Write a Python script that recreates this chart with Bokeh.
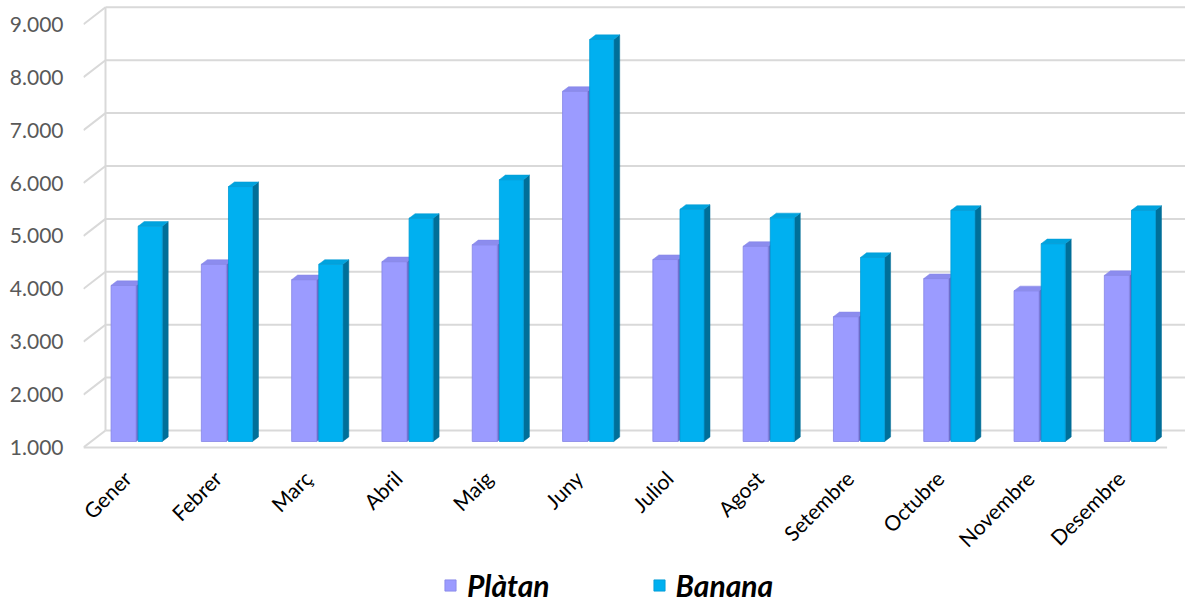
import math
from bokeh.plotting import figure
from bokeh.models import (Range1d, LinearAxis, FixedTicker, Legend, LegendItem)
from bokeh.core.properties import value
from bokeh.embed import file_html
from bokeh.resources import INLINE

# ---------------- data ----------------
months = ["Gener", "Febrer", "Març", "Abril", "Maig", "Juny", "Juliol",
          "Agost", "Setembre", "Octubre", "Novembre", "Desembre"]
platan = [3950, 4350, 4060, 4400, 4720, 7620, 4440, 4690, 3360, 4080, 3850, 4140]
banana = [5070, 5820, 4350, 5220, 5950, 8600, 5390, 5230, 4480, 5370, 4740, 5370]
series_names = ["Plàtan", "Banana"]
y_ticks = [1000, 2000, 3000, 4000, 5000, 6000, 7000, 8000, 9000]
y_tick_labels = ["1.000", "2.000", "3.000", "4.000", "5.000", "6.000", "7.000", "8.000", "9.000"]
base_value = 1000

# ---------------- layout constants ----------------
W, H = 1185, 605
BL, BR, BT, BB = 83, 0, 0, 0
FW, FH = W - BL - BR, H - BT - BB
SX = 90.3            # px per category
SY = 52.9 / 1000.0   # px per value unit
BASE_PX = 441        # pixel row of bar bottoms
FRONT_DX, FRONT_DY = -8.0, -6.0   # front plane offset from bars (px, +up)
BACK_DX, BACK_DY = 14.0, 11.0     # back wall offset from bars (px, +up)
BAR_DX, BAR_DY = 6.0, 4.6         # bar depth (px)

x_start = -0.5 + FRONT_DX / SX
x_end = x_start + FW / SX
y_start = base_value - (FH - BASE_PX) / SY
y_end = y_start + FH / SY

p = figure(width=W, height=H, output_backend="svg", toolbar_location=None,
           x_range=Range1d(x_start, x_end), y_range=Range1d(y_start, y_end),
           x_axis_location=None, y_axis_location=None,
           min_border_left=BL, min_border_right=BR, min_border_top=BT,
           min_border_bottom=BB)
p.outline_line_color = None
p.background_fill_color = "white"
p.border_fill_color = "white"
p.grid.visible = False
p.extra_y_ranges = {"front": Range1d(y_start - FRONT_DY / SY, y_end - FRONT_DY / SY)}

grid_color = "#D9D9D9"
n = len(months)

# ---------------- back wall / floor ----------------
wall_left_x = -0.5 + BACK_DX / SX
front_left_x = -0.5 + FRONT_DX / SX
front_right_x = (n - 0.5) + FRONT_DX / SX
gy = [v + BACK_DY / SY for v in y_ticks]
p.segment(x0=[wall_left_x] * len(y_ticks), y0=gy,
          x1=[x_end + 1] * len(y_ticks), y1=gy,
          line_color=grid_color, line_width=2)
p.segment(x0=[wall_left_x], y0=[gy[0]], x1=[wall_left_x], y1=[gy[-1]],
          line_color=grid_color, line_width=2)
p.segment(x0=[front_left_x] * len(y_ticks),
          y0=[v + FRONT_DY / SY for v in y_ticks],
          x1=[wall_left_x] * len(y_ticks), y1=gy,
          line_color=grid_color, line_width=2)
p.segment(x0=[front_left_x], y0=[base_value + FRONT_DY / SY],
          x1=[front_right_x], y1=[base_value + FRONT_DY / SY],
          line_color=grid_color, line_width=2)

# ---------------- 3D bars ----------------
def bars(values, offset, width, face, side, cap, edge):
    xs = [i + offset for i in range(len(values))]
    ddx, ddy = BAR_DX / SX, BAR_DY / SY
    side_x, side_y, cap_x, cap_y = [], [], [], []
    for x, v in zip(xs, values):
        xl, xr = x - width / 2, x + width / 2
        side_x.append([xr, xr + ddx, xr + ddx, xr])
        side_y.append([base_value, base_value + ddy, v + ddy, v])
        cap_x.append([xl, xl + ddx, xr + ddx, xr])
        cap_y.append([v, v + ddy, v + ddy, v])
    p.patches(xs=side_x, ys=side_y, fill_color=side, line_color=side, line_width=0.5)
    r = p.vbar(x=xs, top=values, bottom=base_value, width=width,
               fill_color=face, line_color=edge, line_width=0.8)
    p.patches(xs=cap_x, ys=cap_y, fill_color=cap, line_color=edge, line_width=0.5)
    return r

r_p = bars(platan, -0.145, 0.277, "#9B9BFF", "#6B6BC8", "#8C8CEE", "#8585E6")
r_b = bars(banana, 0.15, 0.266, "#00B0F0", "#006F99", "#00A3DE", "#009BD4")

# ---------------- y axis (front plane) ----------------
yax = LinearAxis(y_range_name="front", ticker=FixedTicker(ticks=y_ticks),
                 major_label_overrides={v: s for v, s in zip(y_ticks, y_tick_labels)})
yax.axis_line_color = None
yax.major_tick_line_color = None
yax.minor_tick_line_color = None
yax.major_tick_out = 0
yax.major_label_standoff = 20
yax.major_label_text_font = "Lato"
yax.major_label_text_font_size = "21px"
yax.major_label_text_color = "#595959"
p.add_layout(yax, "left")

# ---------------- category labels ----------------
p.text(x=[i - 0.105 for i in range(n)], y=[base_value - 620] * n, text=months,
       angle=math.pi / 4, text_align="right", text_baseline="middle",
       text_font=value("Lato"), text_font_size="21px", text_color="#000000")

# ---------------- legend ----------------
legend = Legend(items=[LegendItem(label=series_names[0], renderers=[r_p]),
                       LegendItem(label=series_names[1], renderers=[r_b])],
                location=(360, 2), orientation="horizontal",
                spacing=102, padding=0, margin=0,
                glyph_width=14, glyph_height=14, label_standoff=10,
                label_text_font="Lato", label_text_font_style="bold italic",
                label_text_font_size="30px", label_text_color="#000000",
                background_fill_alpha=0, border_line_color=None)
p.add_layout(legend)

open("out.html", "w").write(file_html(p, INLINE))
